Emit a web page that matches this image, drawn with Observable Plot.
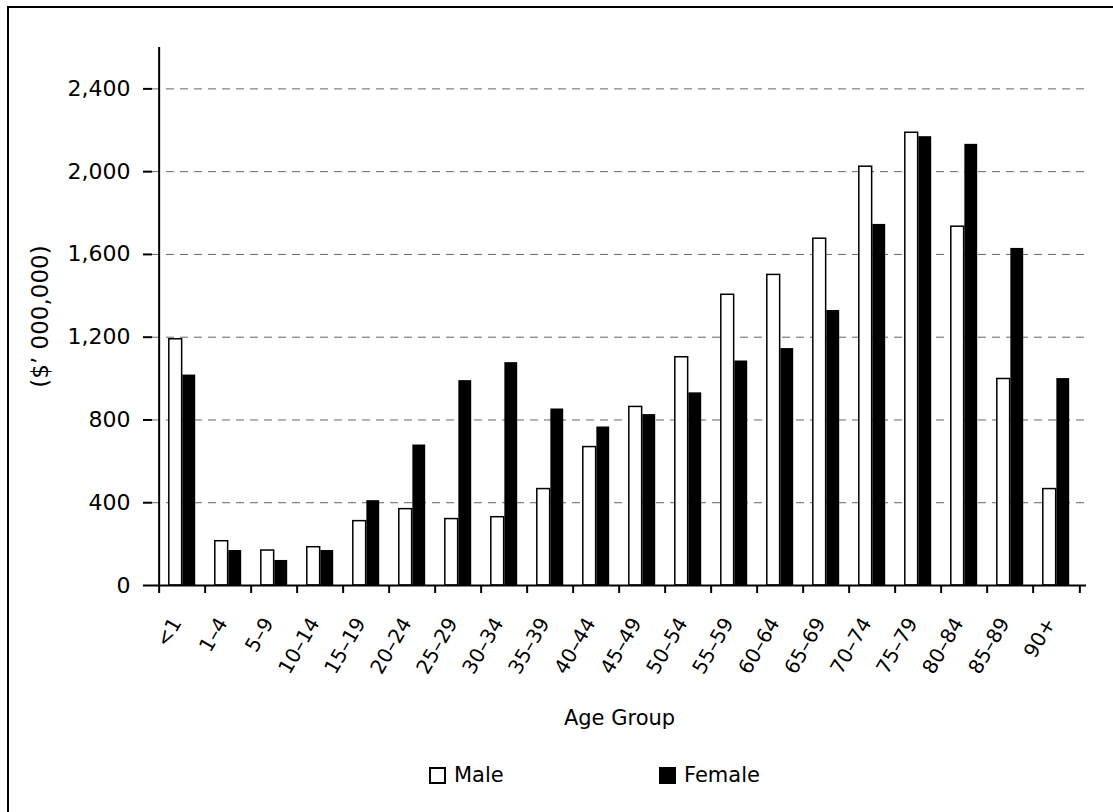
<!DOCTYPE html>
<html>
<head>
<meta charset="utf-8">
<script src="https://cdn.jsdelivr.net/npm/d3@7"></script>
<script src="https://cdn.jsdelivr.net/npm/@observablehq/plot@0.6"></script>
<style>
  html, body { margin: 0; padding: 0; background: #fff; overflow: hidden; }
  body { width: 1113px; height: 812px; position: relative; font-family: "DejaVu Sans", Verdana, sans-serif; }
  #box { position: absolute; left: 7px; top: 6px; width: 1200px; height: 900px; border-left: 2px solid #000; border-top: 2px solid #000; }
  #chart { position: absolute; left: 0; top: 0; }
  #legend { position: absolute; top: 763px; left: 0; width: 1113px; height: 24px; font-size: 21px; color: #000; }
  .item { position: absolute; top: 0; display: flex; align-items: center; height: 24px; }
  .sw { width: 13px; height: 13px; margin-right: 8px; box-sizing: content-box; }
</style>
</head>
<body>
<div id="box"></div>
<div id="chart"></div>
<div id="legend"></div>
<script>
const ages = ["<1","1–4","5–9","10–14","15–19","20–24","25–29","30–34","35–39","40–44","45–49","50–54","55–59","60–64","65–69","70–74","75–79","80–84","85–89","90+"];
const male = [1190,214,169,185,311,369,321,330,466,669,863,1103,1405,1501,1676,2024,2188,1734,998,466];
const female = [1017,169,121,169,410,679,990,1077,853,766,826,931,1085,1145,1329,1745,2169,2132,1629,1000];
const yTicks = [0,400,800,1200,1600,2000,2400];
const seriesNames = ["Male","Female"];
const yTitle = "($’ 000,000)";
const xTitle = "Age Group";

const rows = ages.map((a, i) => ({age: a, male: male[i], female: female[i]}));

const W = 1113, H = 740, ML = 152, MR = 27, MT = 47, MB = 155;
const bw = (W - ML - MR) / ages.length;
const groupW = bw * 0.58;
const barW = groupW / 2;
const outer = (bw - groupW) / 2;

const chart = Plot.plot({
  width: W, height: H,
  marginLeft: ML, marginRight: MR, marginTop: MT, marginBottom: MB,
  style: {fontFamily: "'DejaVu Sans', Verdana, sans-serif", fontSize: "20px", color: "#000", background: "transparent"},
  x: {domain: ages, padding: 0, label: null},
  y: {domain: [0, 2600], label: null},
  marks: [
    Plot.ruleY(yTicks.filter(d => d > 0), {stroke: "#666", strokeWidth: 1, strokeDasharray: "8,6"}),
    Plot.barY(rows, {x: "age", y: "male", fill: "white", stroke: "black", strokeWidth: 1.5, insetLeft: outer, insetRight: outer + barW}),
    Plot.barY(rows, {x: "age", y: "female", fill: "black", insetLeft: outer + barW, insetRight: outer}),
    Plot.ruleY([0], {stroke: "black", strokeWidth: 2}),
    Plot.ruleX([ages[0]], {y1: 0, y2: 2600, dx: -bw / 2, stroke: "black", strokeWidth: 2}),
    Plot.axisY(yTicks, {tickSize: 9, tickPadding: 13, tickFormat: d3.format(","), fontSize: 22, strokeWidth: 2, label: null}),
    Plot.axisY({ticks: [], tickSize: 0, fontSize: 23, label: yTitle, labelAnchor: "center", labelArrow: "none", labelOffset: 121}),
    Plot.axisX({tickSize: 8, tickFormat: () => "", dx: -bw / 2, strokeWidth: 2, label: null}),
    Plot.axisX([ages[ages.length - 1]], {tickSize: 8, tickFormat: () => "", dx: bw / 2, strokeWidth: 2, label: null}),
    Plot.axisX({tickSize: 0, tickPadding: 34, tickRotate: -60, fontSize: 20, dx: -6, label: null}),
    Plot.axisX({ticks: [], tickSize: 0, fontSize: 21, label: xTitle, labelAnchor: "center", labelArrow: "none", labelOffset: 139})
  ]
});
document.getElementById("chart").appendChild(chart);

const legend = document.getElementById("legend");
const legendPos = [429, 659];
seriesNames.forEach((name, i) => {
  const it = document.createElement("div");
  it.className = "item";
  it.style.left = legendPos[i] + "px";
  const sw = document.createElement("span");
  sw.className = "sw";
  sw.style.border = "2px solid #000";
  sw.style.background = i === 0 ? "#fff" : "#000";
  const t = document.createElement("span");
  t.textContent = name;
  it.appendChild(sw); it.appendChild(t);
  legend.appendChild(it);
});
</script>
</body>
</html>
